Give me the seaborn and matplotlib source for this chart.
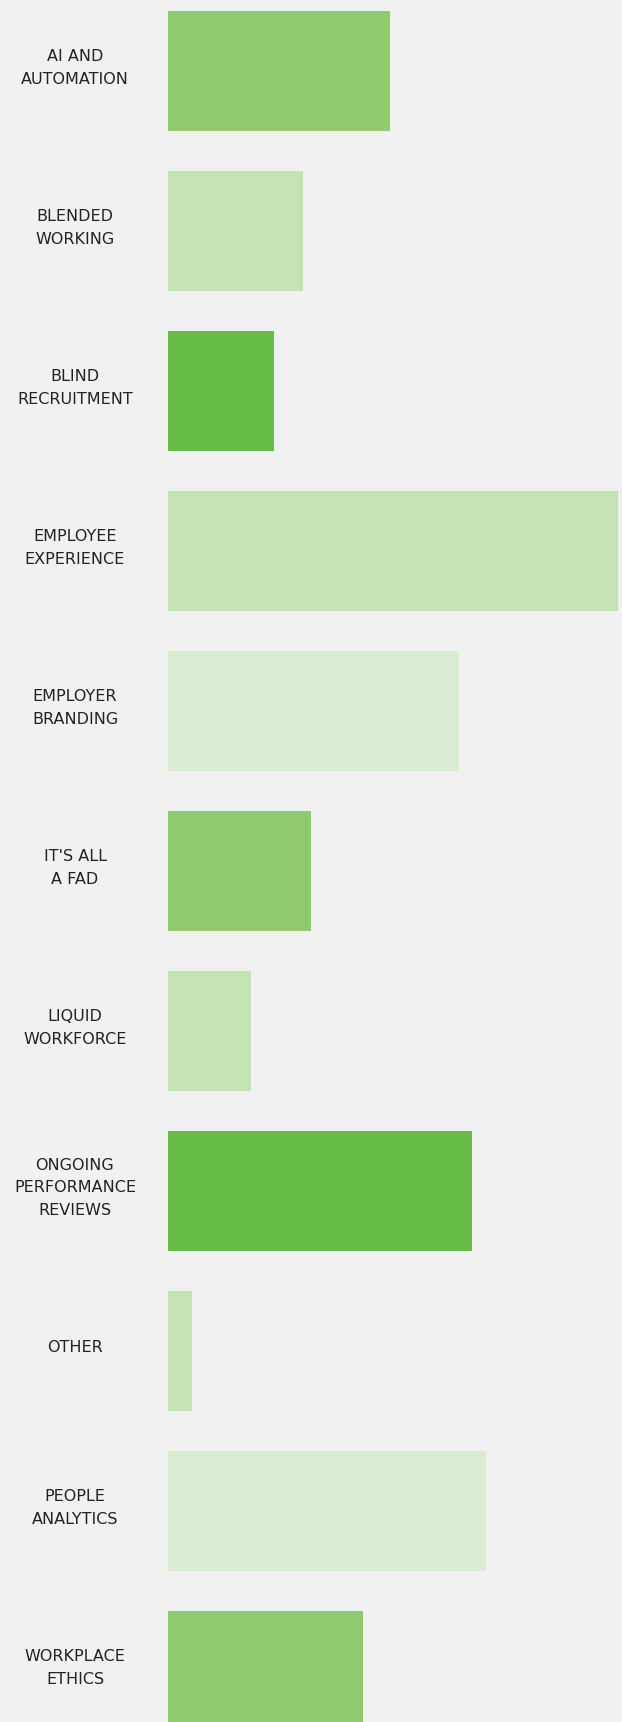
import matplotlib
matplotlib.use("Agg")
import matplotlib.pyplot as plt
import matplotlib.transforms as mtransforms
import seaborn as sns
import pandas as pd

# Topics and their response scores
topics = [
    "AI AND\nAUTOMATION",
    "BLENDED\nWORKING",
    "BLIND\nRECRUITMENT",
    "EMPLOYEE\nEXPERIENCE",
    "EMPLOYER\nBRANDING",
    "IT'S ALL\nA FAD",
    "LIQUID\nWORKFORCE",
    "ONGOING\nPERFORMANCE\nREVIEWS",
    "OTHER",
    "PEOPLE\nANALYTICS",
    "WORKPLACE\nETHICS",
]
scores = [222, 135, 106, 450, 291, 143, 83, 304, 24, 318, 195]
shade = ["mid", "light", "dark", "light", "pale", "mid", "light", "dark", "light", "pale", "mid"]

palette = {"dark": "#68bc48", "mid": "#8fca70", "light": "#c4e2b3", "pale": "#daecd1"}
bg = "#f0f1f0"

df = pd.DataFrame({"topic": topics, "score": scores, "shade": shade})

sns.set_theme(style="white")
plt.rcParams["font.family"] = ["DejaVu Sans"]

W, H = 622, 1722
fig = plt.figure(figsize=(W / 100, H / 100), dpi=100, facecolor=bg)
left = 168 / W
ax = fig.add_axes([left, 0, 1 - left, 1], facecolor=bg)

sns.barplot(
    data=df, x="score", y="topic", hue="shade", palette=palette,
    dodge=False, width=0.75, legend=False, ax=ax, saturation=1,
    order=topics, linewidth=0, edgecolor="none",
)

ax.set_xlim(0, 454)
ax.set_ylim((H - 71) / 160, -71 / 160)
ax.set_xlabel("")
ax.set_ylabel("")
ax.set_xticks([])
ax.set_yticks([])
for s in ax.spines.values():
    s.set_visible(False)

# Category labels centred in the left margin, beside each bar
label_x = 75 / W
trans = mtransforms.blended_transform_factory(fig.transFigure, ax.transData)
for i, name in enumerate(topics):
    fig.text(
        label_x, i - 0.02, name, transform=trans,
        ha="center", va="center", multialignment="center",
        fontsize=11.5, color="#222222", linespacing=1.62,
    )

fig.savefig("out.png", dpi=100, facecolor=bg)
